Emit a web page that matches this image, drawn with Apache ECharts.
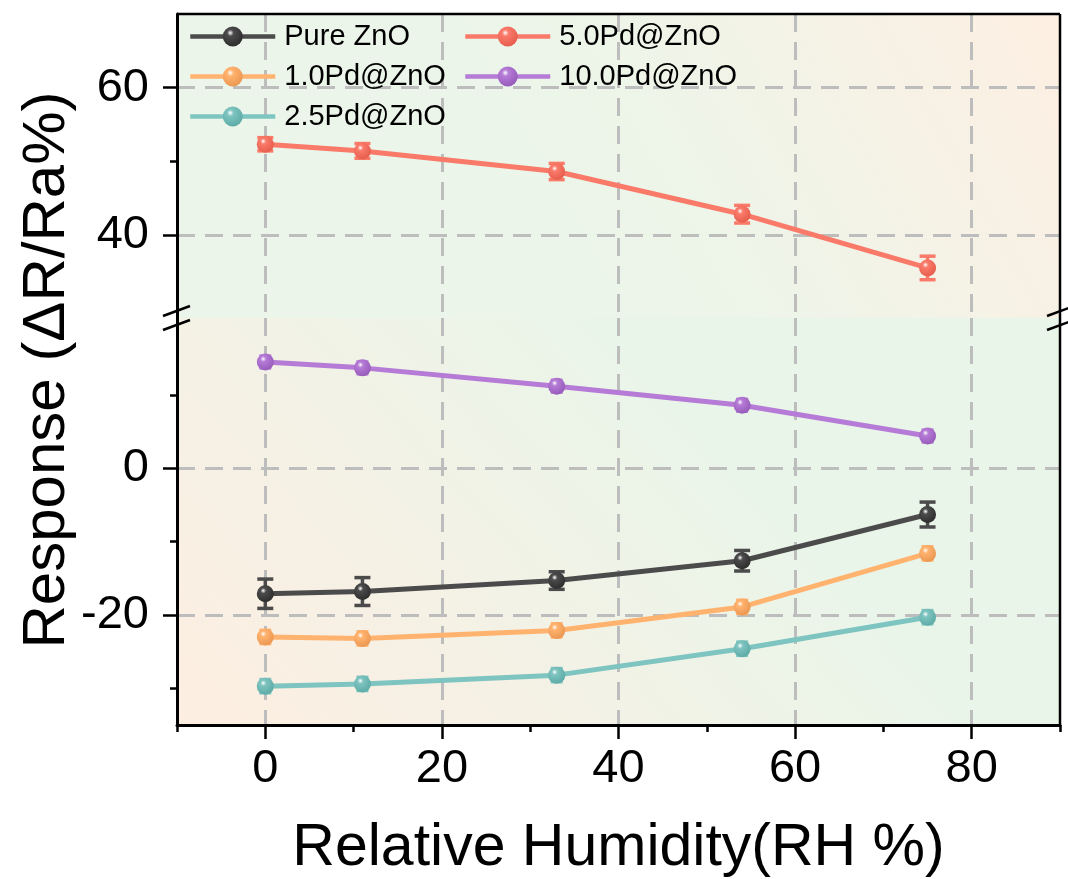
<!DOCTYPE html>
<html><head><meta charset="utf-8">
<script src="https://cdn.jsdelivr.net/npm/echarts@6/dist/echarts.min.js"></script>
<style>html,body{margin:0;padding:0;background:#fff}#c{width:1068px;height:879px}</style>
</head><body><div id="c"></div>
<script>
// ---------- data ----------
const humidity = [0, 11, 33, 54, 75];
const seriesNames = ['Pure ZnO', '1.0Pd@ZnO', '2.5Pd@ZnO', '5.0Pd@ZnO', '10.0Pd@ZnO'];
const pureZnO    = [-17.1, -16.8, -15.3, -12.6, -6.3];
const pureZnOErr = [2.0, 1.9, 1.2, 1.4, 1.7];
const pd10       = [-23.0, -23.2, -22.1, -18.9, -11.6];
const pd10Err    = [0.9, 0.9, 0.9, 0.9, 0.9];
const pd25       = [-29.7, -29.4, -28.2, -24.6, -20.3];
const pd25Err    = [0.9, 0.9, 0.9, 0.9, 0.9];
const pd50       = [52.3, 51.4, 48.6, 42.8, 35.5];
const pd50Err    = [0.9, 1.0, 1.1, 1.2, 1.6];
const pd100      = [14.5, 13.7, 11.2, 8.6, 4.4];
const pd100Err   = [0.8, 0.8, 0.8, 0.8, 0.8];
const xTickValues  = [0, 20, 40, 60, 80];
const xMinorTicks  = [-10, 10, 30, 50, 70, 90];
const yUpperTicks  = [40, 60];
const yUpperMinor  = [50];
const yLowerTicks  = [-20, 0];
const yLowerMinor  = [-30, -10, 10];
const xRange = [-10, 90];
const yUpperRange = [28.7, 70];
const yLowerRange = [-35, 20.5];

// ---------- styling ----------
const colors = ['#4b4b4b', '#ffb36f', '#7ec4c0', '#fa7a6a', '#b57bd6'];
const darker = ['#2a2a2a', '#e8944e', '#5aa8a4', '#e45a4a', '#9458b8'];
const FONT = 'Liberation Sans, Arial, sans-serif';
const G_LEFT = 177, G_W = 883, G_TOP = 14, BREAK_Y = 318, G_BOTTOM = 726;

function sphere(i) {
  return {
    type: 'radial', x: 0.38, y: 0.32, r: 0.75,
    colorStops: [
      { offset: 0, color: '#ffffff' },
      { offset: 0.22, color: colors[i] },
      { offset: 1, color: darker[i] }
    ]
  };
}
function makeErrRender(color, capHalf) {
  return function (params, api) {
    const x = api.value(0);
    const lo = api.coord([x, api.value(1)]);
    const hi = api.coord([x, api.value(2)]);
    const st = { stroke: color, lineWidth: 3.5 };
    return {
      type: 'group', children: [
        { type: 'line', shape: { x1: lo[0], y1: lo[1], x2: hi[0], y2: hi[1] }, style: st },
        { type: 'line', shape: { x1: lo[0] - capHalf, y1: lo[1], x2: lo[0] + capHalf, y2: lo[1] }, style: st },
        { type: 'line', shape: { x1: hi[0] - capHalf, y1: hi[1], x2: hi[0] + capHalf, y2: hi[1] }, style: st }
      ]
    };
  };
}

const seriesDefs = [
  { vals: pureZnO, errs: pureZnOErr, grid: 1, cap: 8 },
  { vals: pd10, errs: pd10Err, grid: 1, cap: 6 },
  { vals: pd25, errs: pd25Err, grid: 1, cap: 6 },
  { vals: pd50, errs: pd50Err, grid: 0, cap: 8 },
  { vals: pd100, errs: pd100Err, grid: 1, cap: 6 }
];

const series = [];
seriesDefs.forEach((d, i) => {
  const xIdx = d.grid === 0 ? 0 : 2;
  const yIdx = d.grid === 0 ? 0 : 3;
  series.push({
    name: seriesNames[i] + ' err', type: 'custom',
    xAxisIndex: xIdx, yAxisIndex: yIdx, z: 3,
    renderItem: makeErrRender(colors[i], d.cap),
    encode: { x: 0, y: [1, 2] },
    data: humidity.map((h, k) => [h, d.vals[k] - d.errs[k], d.vals[k] + d.errs[k]]),
    silent: true
  });
  series.push({
    name: seriesNames[i], type: 'line',
    xAxisIndex: xIdx, yAxisIndex: yIdx, z: 4,
    symbol: 'circle', symbolSize: 17,
    lineStyle: { color: colors[i], width: 5 },
    itemStyle: { color: sphere(i), borderWidth: 0 },
    data: humidity.map((h, k) => [h, d.vals[k]]),
    animation: false
  });
});

const split = { show: true, lineStyle: { color: '#bdbdbd', width: 3, type: [18, 10] } };
const noLine = { show: false, onZero: false };
const labelStyle = { fontSize: 47, fontFamily: FONT, color: '#000' };

// backgrounds (global pixel coordinates for diagonal blends)
const bgUpper = {
  type: 'linear', global: true, x: 520, y: BREAK_Y, x2: G_LEFT + G_W, y2: G_TOP,
  colorStops: [{ offset: 0, color: '#ebf5e9' }, { offset: 0.3, color: '#edf5e9' }, { offset: 0.65, color: '#f5f2e6' }, { offset: 1, color: '#fdefe2' }]
};
const bgLower = {
  type: 'linear', global: true, x: G_LEFT, y: G_BOTTOM, x2: 600, y2: BREAK_Y + 12,
  colorStops: [{ offset: 0, color: '#fdeee1' }, { offset: 0.45, color: '#f5f1e5' }, { offset: 1, color: '#eaf5e9' }]
};

const option = {
  animation: false,
  backgroundColor: '#ffffff',
  grid: [
    { left: G_LEFT, top: G_TOP, width: G_W, height: BREAK_Y - G_TOP, show: true, backgroundColor: bgUpper, borderWidth: 0 },
    { left: G_LEFT, top: BREAK_Y, width: G_W, height: G_BOTTOM - BREAK_Y, show: true, backgroundColor: bgLower, borderWidth: 0 }
  ],
  xAxis: [
    { gridIndex: 0, type: 'value', position: 'bottom', min: xRange[0], max: xRange[1],
      axisLine: noLine, axisTick: { show: false, customValues: xTickValues },
      axisLabel: { show: false }, splitLine: split },
    { gridIndex: 0, type: 'value', position: 'top', min: xRange[0], max: xRange[1],
      axisLine: { show: false, onZero: false }, axisTick: { show: false }, axisLabel: { show: false }, splitLine: { show: false } },
    { gridIndex: 1, type: 'value', position: 'bottom', min: xRange[0], max: xRange[1],
      axisLine: { show: true, onZero: false, lineStyle: { color: '#000', width: 3 } },
      axisTick: { show: true, customValues: xTickValues, length: 14, lineStyle: { color: '#000', width: 2.5 } },
      axisLabel: { show: true, customValues: xTickValues, margin: 21, ...labelStyle },
      splitLine: split,
      name: 'Relative Humidity(RH %)', nameLocation: 'middle', nameGap: 94,
      nameTextStyle: { fontSize: 59, fontFamily: FONT, color: '#000' } },
    { gridIndex: 1, type: 'value', position: 'bottom', min: xRange[0], max: xRange[1],
      axisLine: noLine,
      axisTick: { show: true, customValues: xMinorTicks, length: 7, lineStyle: { color: '#000', width: 2.5 } },
      axisLabel: { show: false }, splitLine: { show: false } }
  ],
  yAxis: [
    { gridIndex: 0, type: 'value', position: 'left', min: yUpperRange[0], max: yUpperRange[1],
      axisLine: { show: true, onZero: false, lineStyle: { color: '#000', width: 3 } },
      axisTick: { show: true, customValues: yUpperTicks, length: 14, lineStyle: { color: '#000', width: 2.5 } },
      axisLabel: { show: true, customValues: yUpperTicks, margin: 28, ...labelStyle },
      splitLine: split },
    { gridIndex: 0, type: 'value', position: 'left', min: yUpperRange[0], max: yUpperRange[1],
      axisLine: noLine,
      axisTick: { show: true, customValues: yUpperMinor, length: 7, lineStyle: { color: '#000', width: 2.5 } },
      axisLabel: { show: false }, splitLine: { show: false } },
    { gridIndex: 1, type: 'value', position: 'right', min: yLowerRange[0], max: yLowerRange[1],
      axisLine: noLine, axisTick: { show: false }, axisLabel: { show: false }, splitLine: { show: false } },
    { gridIndex: 1, type: 'value', position: 'left', min: yLowerRange[0], max: yLowerRange[1],
      axisLine: { show: true, onZero: false, lineStyle: { color: '#000', width: 3 } },
      axisTick: { show: true, customValues: yLowerTicks, length: 14, lineStyle: { color: '#000', width: 2.5 } },
      axisLabel: { show: true, customValues: yLowerTicks, margin: 28, ...labelStyle },
      splitLine: split },
    { gridIndex: 1, type: 'value', position: 'left', min: yLowerRange[0], max: yLowerRange[1],
      axisLine: noLine,
      axisTick: { show: true, customValues: yLowerMinor, length: 7, lineStyle: { color: '#000', width: 2.5 } },
      axisLabel: { show: false }, splitLine: { show: false } }
  ],
  legend: [
    { data: seriesNames.slice(0, 3), orient: 'vertical', left: 188, top: 22,
      itemWidth: 85, itemHeight: 25, itemGap: 11, padding: 0,
      lineStyle: { width: 4.5 },
      textStyle: { fontSize: 29, fontFamily: FONT, color: '#000', padding: [0, 0, 0, 4] } },
    { data: seriesNames.slice(3), orient: 'vertical', left: 463, top: 22,
      itemWidth: 85, itemHeight: 25, itemGap: 11, padding: 0,
      lineStyle: { width: 4.5 },
      textStyle: { fontSize: 29, fontFamily: FONT, color: '#000', padding: [0, 0, 0, 4] } }
  ],
  graphic: [
    // frame top & right
    { type: 'line', z: 100, shape: { x1: G_LEFT, y1: G_TOP, x2: G_LEFT + G_W, y2: G_TOP }, style: { stroke: '#000', lineWidth: 2.5 } },
    { type: 'line', z: 100, shape: { x1: G_LEFT + G_W, y1: G_TOP, x2: G_LEFT + G_W, y2: G_BOTTOM }, style: { stroke: '#000', lineWidth: 2.5 } },
    // break marks left
    { type: 'line', z: 100, shape: { x1: G_LEFT - 14, y1: BREAK_Y - 2, x2: G_LEFT + 13, y2: BREAK_Y - 12 }, style: { stroke: '#000', lineWidth: 2.5 } },
    { type: 'line', z: 100, shape: { x1: G_LEFT - 14, y1: BREAK_Y + 12, x2: G_LEFT + 13, y2: BREAK_Y + 2 }, style: { stroke: '#000', lineWidth: 2.5 } },
    // break marks right
    { type: 'line', z: 100, shape: { x1: G_LEFT + G_W - 13, y1: BREAK_Y - 2, x2: G_LEFT + G_W + 14, y2: BREAK_Y - 12 }, style: { stroke: '#000', lineWidth: 2.5 } },
    { type: 'line', z: 100, shape: { x1: G_LEFT + G_W - 13, y1: BREAK_Y + 12, x2: G_LEFT + G_W + 14, y2: BREAK_Y + 2 }, style: { stroke: '#000', lineWidth: 2.5 } },
    // y title
    { type: 'text', z: 100, x: 47, y: (G_TOP + G_BOTTOM) / 2, rotation: Math.PI / 2,
      style: { text: 'Response (ΔR/Ra%)', font: '60px ' + FONT, fill: '#000', textAlign: 'center', textVerticalAlign: 'middle' } }
  ],
  series: series
};

const chart = echarts.init(document.getElementById('c'), null, { renderer: 'canvas' });
chart.setOption(option);
</script>
</body></html>
